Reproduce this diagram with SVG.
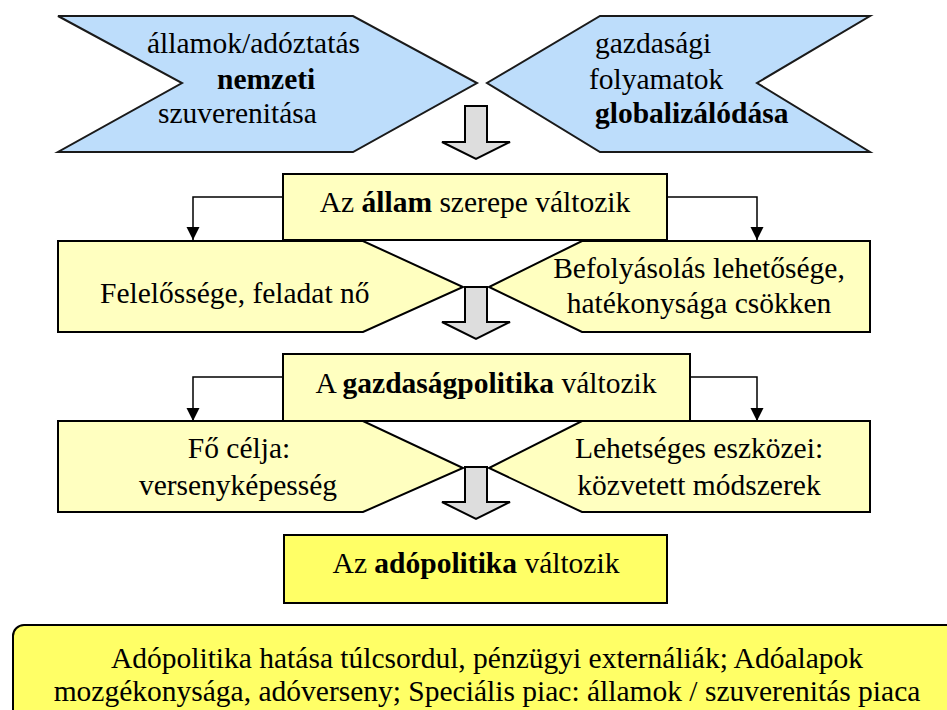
<svg xmlns="http://www.w3.org/2000/svg" width="947" height="710" viewBox="0 0 947 710">
<defs>
<style>
.t{font-family:'Liberation Serif','Times New Roman',serif;font-size:29.5px;fill:#000}
.b{font-weight:bold}
.blue{fill:#BDDDFB;stroke:#1a1a1a;stroke-width:2}
.pale{fill:#FFFFC0;stroke:#000;stroke-width:2}
.yel{fill:#FFFF66;stroke:#000;stroke-width:2}
.gray{fill:#DDDDDD;stroke:#000;stroke-width:2}
.con{fill:none;stroke:#000;stroke-width:1.5}
</style>
<marker id="ah" markerUnits="userSpaceOnUse" markerWidth="14" markerHeight="14" refX="13" refY="6.5" orient="auto">
<path d="M0,0 L13,6.5 L0,13 z" fill="#000"/>
</marker>
</defs>
<rect width="947" height="710" fill="#fff"/>

<g id="node-szuverenitas">
<polygon class="blue" points="58,16 353,16 477,83 353,152 58,152 182,83"/>
<text class="t" x="147" y="53">államok/adóztatás</text>
<text class="t b" x="217" y="89">nemzeti</text>
<text class="t" x="158" y="123">szuverenitása</text>
</g>

<g id="node-globalizacio">
<polygon class="blue" points="600,16 870,16 757,83 870,152 600,152 487,83"/>
<text class="t" x="595" y="53">gazdasági</text>
<text class="t" x="589" y="89">folyamatok</text>
<text class="t b" x="595" y="123">globalizálódása</text>
</g>

<g id="arrow-1">
<polygon class="gray" points="465,106 487,106 487,142 510,142 476,159 442,142 465,142"/>
</g>

<g id="node-allam">
<rect class="pale" x="283" y="174" width="384" height="66"/>
<text class="t" x="475" y="212" text-anchor="middle">Az <tspan class="b">állam</tspan> szerepe változik</text>
</g>

<g id="node-feleloseg">
<polygon class="pale" points="58,241 363,241 463,287 363,332 58,332"/>
<text class="t" x="100" y="303">Felelőssége, feladat nő</text>
</g>

<g id="node-befolyasolas">
<polygon class="pale" points="582,241 870,241 870,332 582,332 489,287"/>
<text class="t" x="699" y="278" text-anchor="middle">Befolyásolás lehetősége,</text>
<text class="t" x="699" y="313" text-anchor="middle">hatékonysága csökken</text>
</g>

<g id="arrow-2">
<polygon class="gray" points="465,287 487,287 487,322 510,322 476,339 442,322 465,322"/>
</g>

<g id="node-gazdasagpolitika">
<rect class="pale" x="283" y="354" width="407" height="67"/>
<text class="t" x="486" y="393" text-anchor="middle">A <tspan class="b">gazdaságpolitika</tspan> változik</text>
</g>

<g id="node-celja">
<polygon class="pale" points="58,421 363,421 463,468 363,512 58,512"/>
<text class="t" x="239" y="458" text-anchor="middle">Fő célja:</text>
<text class="t" x="238" y="495" text-anchor="middle">versenyképesség</text>
</g>

<g id="node-eszkozei">
<polygon class="pale" points="582,421 870,421 870,512 582,512 489,468"/>
<text class="t" x="699" y="458" text-anchor="middle">Lehetséges eszközei:</text>
<text class="t" x="699" y="495" text-anchor="middle">közvetett módszerek</text>
</g>

<g id="arrow-3">
<polygon class="gray" points="465,467 487,467 487,502 510,502 476,519 442,502 465,502"/>
</g>

<g id="node-adopolitika">
<rect class="yel" x="284" y="535" width="383" height="68"/>
<text class="t" x="476" y="573" text-anchor="middle">Az <tspan class="b">adópolitika</tspan> változik</text>
</g>

<g id="node-hatasa">
<rect class="yel" x="13" y="625" width="960" height="110" rx="11" ry="11"/>
<text class="t" x="487" y="668" text-anchor="middle">Adópolitika hatása túlcsordul, pénzügyi externáliák; Adóalapok</text>
<text class="t" x="487" y="701" text-anchor="middle">mozgékonysága, adóverseny; Speciális piac: államok / szuverenitás piaca</text>
</g>

<g id="connectors">
<path class="con" d="M283,197 H193 V240" marker-end="url(#ah)"/>
<path class="con" d="M667,197 H757 V240" marker-end="url(#ah)"/>
<path class="con" d="M283,377 H193 V421" marker-end="url(#ah)"/>
<path class="con" d="M690,377 H757 V421" marker-end="url(#ah)"/>
</g>
</svg>
